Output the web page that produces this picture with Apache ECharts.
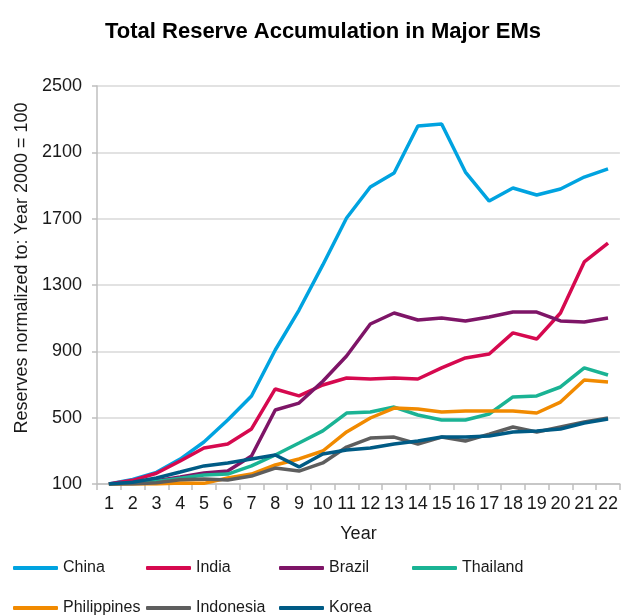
<!DOCTYPE html>
<html>
<head>
<meta charset="utf-8">
<script src="https://cdn.jsdelivr.net/npm/echarts@6/dist/echarts.min.js"></script>
<style>html,body{margin:0;padding:0;background:#fff;}#c{width:621px;height:615px;}</style>
</head>
<body>
<div id="c"></div>
<script>
const years = ['1','2','3','4','5','6','7','8','9','10','11','12','13','14','15','16','17','18','19','20','21','22'];
const china = [100,128,170,250,353,486,631,908,1149,1421,1704,1891,1975,2259,2271,1981,1806,1885,1843,1879,1951,2000];
const india = [100,122,165,239,317,341,432,673,631,697,739,733,739,733,800,860,884,1011,974,1131,1439,1553];
const brazil = [100,108,120,142,166,178,269,546,588,720,872,1065,1131,1089,1101,1083,1107,1137,1137,1083,1077,1101];
const thailand = [100,105,115,135,154,160,209,275,347,420,528,534,564,516,486,486,522,625,631,685,800,757];
const philippines = [100,100,100,106,104,136,160,215,251,299,414,498,558,552,534,540,540,540,528,594,727,715];
const indonesia = [100,100,108,125,130,124,148,196,178,227,323,377,383,341,383,359,401,444,414,444,474,498];
const korea = [100,110,136,172,209,227,251,275,203,281,305,317,341,359,383,383,389,414,420,432,468,492];
const yTicks = {min: 100, max: 2500, interval: 400};

const names = ['China','India','Brazil','Thailand','Philippines','Indonesia','Korea'];
const values = [china, india, brazil, thailand, philippines, indonesia, korea];
const colors = ['#00A3E0','#D6094F','#7E1567','#1AB394','#F18A00','#5E5E5E','#005B85'];

const font = 'Arial, "Liberation Sans", sans-serif';
const txt = '#1a1a1a';

const legendPos = [[13,560],[146,560],[279,560],[412,560],[13,600],[146,600],[279,600]];
const legends = names.map((n, i) => ({
  data: [n], left: legendPos[i][0], top: legendPos[i][1], padding: 0,
  icon: 'roundRect', itemWidth: 45, itemHeight: 4, itemGap: 0,
  textStyle: {fontFamily: font, fontSize: 16, color: txt},
  selectedMode: false
}));

const chart = echarts.init(document.getElementById('c'), null, {renderer: 'canvas'});
chart.setOption({
  animation: false,
  backgroundColor: '#fff',
  title: {
    text: 'Total Reserve Accumulation in Major EMs',
    left: 318, top: 16, textAlign: 'center',
    textStyle: {fontFamily: font, fontSize: 22, fontWeight: 'bold', color: '#000'}
  },
  legend: legends,
  grid: {left: 97, right: 0, top: 86, bottom: 131, containLabel: false},
  xAxis: {
    type: 'category', data: years, boundaryGap: true,
    name: 'Year', nameLocation: 'middle', nameGap: 41,
    nameTextStyle: {fontFamily: font, fontSize: 18, color: txt},
    axisLine: {lineStyle: {color: '#bfbfbf', width: 1.5}},
    axisTick: {show: true, length: 6, lineStyle: {color: '#bfbfbf', width: 1.5}},
    axisLabel: {fontFamily: font, fontSize: 18, color: txt, margin: 11, interval: 0},
    splitLine: {show: false}
  },
  yAxis: {
    type: 'value', min: yTicks.min, max: yTicks.max, interval: yTicks.interval,
    name: 'Reserves normalized to: Year 2000 = 100', nameLocation: 'middle', nameGap: 66,
    nameRotate: 90,
    nameTextStyle: {fontFamily: font, fontSize: 18, color: txt, padding: [0,0,0,34]},
    axisLine: {show: true, lineStyle: {color: '#bfbfbf', width: 1.5}},
    axisTick: {show: true, length: 5, lineStyle: {color: '#bfbfbf', width: 1.5}},
    axisLabel: {fontFamily: font, fontSize: 18, color: txt, margin: 15, formatter: v => String(v)},
    splitLine: {show: true, lineStyle: {color: '#d9d9d9', width: 1.5}}
  },
  series: names.map((n, i) => ({
    name: n, type: 'line', data: values[i], showSymbol: false, symbol: 'none',
    lineStyle: {color: colors[i], width: 3.5}, itemStyle: {color: colors[i]},
    z: 2 + i
  }))
});
</script>
</body>
</html>
